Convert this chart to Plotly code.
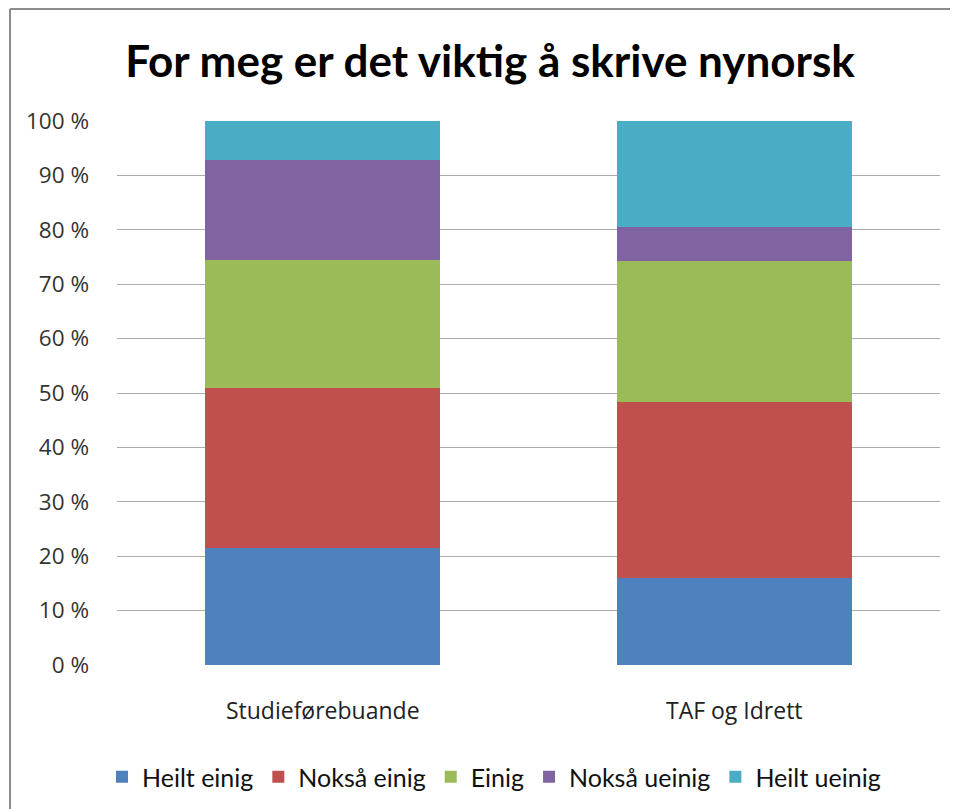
import plotly.graph_objects as go

categories = ["Studieførebuande", "TAF og Idrett"]
series_names = ["Heilt einig", "Nokså einig", "Einig", "Nokså ueinig", "Heilt ueinig"]
heilt_einig = [21.6, 16.0]
noksa_einig = [29.3, 32.3]
einig = [23.5, 25.9]
noksa_ueinig = [18.4, 6.3]
heilt_ueinig = [7.2, 19.5]
tick_values = [0, 10, 20, 30, 40, 50, 60, 70, 80, 90, 100]
tick_labels = ["0 %", "10 %", "20 %", "30 %", "40 %", "50 %", "60 %", "70 %", "80 %", "90 %", "100 %"]
colors = ["#4F81BD", "#C0504D", "#9BBB59", "#8064A2", "#4BACC6"]

values = [heilt_einig, noksa_einig, einig, noksa_ueinig, heilt_ueinig]

W, H = 958, 809
OFF = 8  # page body offset
L, R, T, B = 109, 26, 113, 152
pw, ph = W - L - R, H - T - B

def fx(sx):
    return (sx - OFF - L) / pw

def fy(sy):
    return (H - B - (sy - OFF)) / ph

fig = go.Figure()
for name, vals, col in zip(series_names, values, colors):
    fig.add_trace(go.Bar(x=categories, y=vals, name=name, marker=dict(color=col, line=dict(width=0))))

fig.update_layout(
    width=W, height=H,
    margin=dict(l=L, r=R, t=T, b=B),
    barmode="stack",
    bargap=0.43,
    plot_bgcolor="white",
    paper_bgcolor="white",
    font=dict(family="Open Sans", color="#000000", size=20),
    title=dict(text="<b>For meg er det viktig å skrive nynorsk</b>",
               font=dict(family="Lato", size=44, color="#000000"),
               x=fx(490), xref="paper", xanchor="center", y=1 - (62 - OFF) / H, yanchor="middle"),
    legend=dict(orientation="h", x=fx(494), xanchor="center", y=fy(777), yanchor="middle",
                font=dict(family="Lato", size=25, color="#111111"), traceorder="normal", itemwidth=30),
    showlegend=True,
)
fig.update_yaxes(range=[0, 100], tickvals=tick_values, ticktext=tick_labels,
                 showgrid=True, gridcolor="#ABABAB", gridwidth=1, zeroline=False,
                 showline=False, ticks="", ticklabelstandoff=27,
                 tickfont=dict(family="Open Sans", size=22.5, color="#333333"))
fig.update_xaxes(showline=False, ticks="", ticklabelstandoff=30,
                 tickfont=dict(family="Open Sans", size=23, color="#222222"))

# chart frame: only the left and top edges are visible in the reference
fig.add_shape(type="line", xref="paper", yref="paper",
              x0=fx(10), x1=fx(10), y0=fy(816), y1=fy(9),
              line=dict(color="#8C8C8C", width=2), layer="below")
fig.add_shape(type="line", xref="paper", yref="paper",
              x0=fx(10), x1=fx(965), y0=fy(9), y1=fy(9),
              line=dict(color="#8C8C8C", width=2), layer="below")

fig.write_html("out.html")
